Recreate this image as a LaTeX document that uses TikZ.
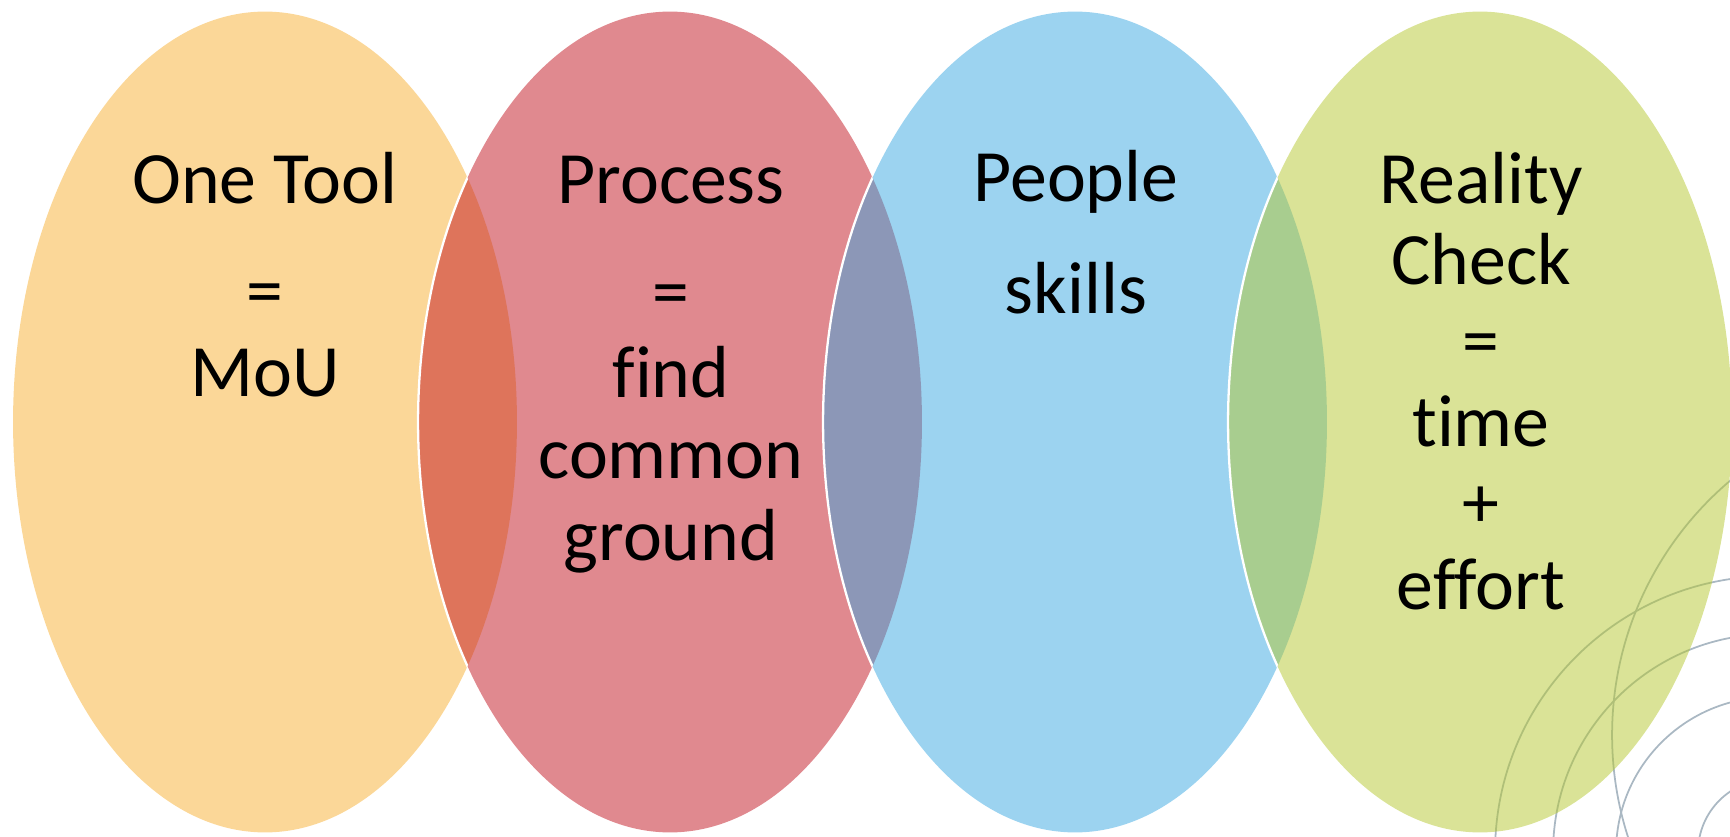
\documentclass[tikz,border=0pt]{standalone}
\usepackage{fontspec}
\setmainfont{Carlito}[Ligatures=NoCommon]
\usetikzlibrary{shapes.geometric}

\definecolor{toolfill}{RGB}{247,175,49}
\definecolor{processfill}{RGB}{193,19,31}
\definecolor{peoplefill}{RGB}{57,167,225}
\definecolor{realityfill}{RGB}{181,199,47}
\definecolor{ringgray}{RGB}{170,184,195}

\begin{document}
\begin{tikzpicture}[x=0.02cm, y=-0.02cm,
    venn/.style={ellipse, minimum width=10.08cm, minimum height=16.42cm, inner sep=0pt, fill opacity=0.5},
    vennlabel/.style={anchor=base, align=center, font=\fontsize{42}{46.2}\selectfont},
    rim/.style={draw=white, line width=1.3pt},
    bgring/.style={draw=ringgray, line width=1pt}
]
    \useasboundingbox (0,0) rectangle (1730,837);

    % background rings in the lower right corner
    \begin{scope}
        \clip (0,0) rectangle (1730,837);
        \draw[bgring] (1945,735) circle [radius=6.66cm];
        \foreach \r in {5.52,4.36,3.1,1.46}
            \draw[bgring] (1771,852) circle [radius=\r cm];
    \end{scope}

    % the four sets
    \node[venn, fill=toolfill] (tool) at (265,422) {};
    \node[venn, fill=processfill] (process) at (670,422) {};
    \node[venn, fill=peoplefill] (people) at (1075,422) {};
    \node[venn, fill=realityfill] (reality) at (1480,422) {};

    % white rim where a set runs over its left neighbour
    \foreach \a/\b in {tool/process, process/people, people/reality} {
        \begin{scope}
            \clip (\a.center) ellipse [x radius=5.04cm, y radius=8.21cm];
            \draw[rim] (\b.center) ellipse [x radius=5.04cm, y radius=8.21cm];
        \end{scope}
    }

    % labels (placed by the baseline of their last line)
    \node[vennlabel] (tooltext) at (265,397) {One Tool\\[0.63cm]=\\MoU};
    \node[vennlabel] (processtext) at (671,560) {Process\\[0.63cm]=\\find\\common\\ground};
    \node[vennlabel] (peopletext) at (1076,314) {People\\[0.63cm]skills};
    \node[vennlabel] (realitytext) at (1481,609) {Reality\\Check\\=\\time\\+\\effort};
\end{tikzpicture}
\end{document}
